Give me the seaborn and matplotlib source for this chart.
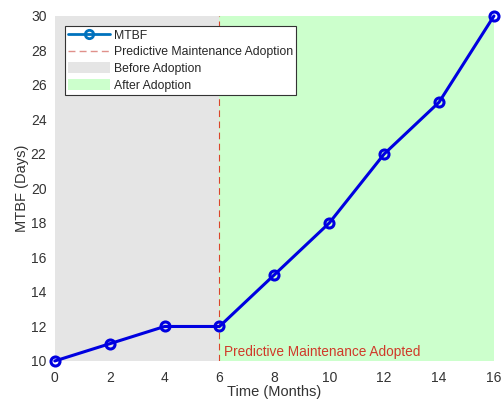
import matplotlib
matplotlib.use("Agg")
import matplotlib.pyplot as plt
from matplotlib.lines import Line2D
from matplotlib.patches import Patch
import seaborn as sns
import pandas as pd

# Mean time between failures over time
months = [0, 2, 4, 6, 8, 10, 12, 14, 16]
mtbf_days = [10, 11, 12, 12, 15, 18, 22, 25, 30]
adoption_month = 6
x_ticks = [0, 2, 4, 6, 8, 10, 12, 14, 16]
y_ticks = [10, 12, 14, 16, 18, 20, 22, 24, 26, 28, 30]

sns.set_theme(style="white")
plt.rcParams["font.family"] = ["Liberation Sans", "DejaVu Sans"]

df = pd.DataFrame({"Time (Months)": months, "MTBF (Days)": mtbf_days})

fig = plt.figure(figsize=(5.03, 4.01), dpi=100)
ax = fig.add_axes([0.109, 0.0998, 0.873, 0.8604])

x_min, x_max = min(months), max(months)
y_min, y_max = min(mtbf_days), max(mtbf_days)

# Shaded periods before/after adoption
ax.axvspan(x_min, adoption_month, color="#e5e5e5", lw=0, zorder=0)
ax.axvspan(adoption_month, x_max, color="#ccffcc", lw=0, zorder=0)
ax.axvline(adoption_month, color="#d9452b", ls=(0, (6, 4)), lw=0.8, zorder=1)

sns.lineplot(data=df, x="Time (Months)", y="MTBF (Days)", ax=ax,
             color="#0000e0", lw=2.2, marker="o", markersize=6.5,
             markerfacecolor="none", markeredgecolor="#0000e0",
             markeredgewidth=2.2, zorder=3, clip_on=False)

ax.text(adoption_month + 0.15, y_min + 0.12, "Predictive Maintenance Adopted",
        color="#d03a2a", fontsize=9.8, ha="left", va="bottom")

ax.set_xlim(x_min, x_max)
ax.set_ylim(y_min, y_max)
ax.set_xticks(x_ticks)
ax.set_yticks(y_ticks)
for s in ax.spines.values():
    s.set_visible(False)
ax.tick_params(axis="x", length=0, labelsize=10, colors="#333333", pad=7)
ax.tick_params(axis="y", length=0, labelsize=10, colors="#333333", pad=6)
ax.set_xlabel("Time (Months)", fontsize=10.5, color="#333333", labelpad=0)
ax.set_ylabel("MTBF (Days)", fontsize=10.5, color="#333333", labelpad=1)

handles = [
    Line2D([], [], color="#0072bd", lw=2, marker="o", markersize=6,
           markerfacecolor="none", markeredgewidth=2),
    Line2D([], [], color="#e0908a", ls=(0, (5, 3)), lw=1.0),
    Patch(facecolor="#e5e5e5", edgecolor="none"),
    Patch(facecolor="#ccffcc", edgecolor="none"),
]
labels = ["MTBF", "Predictive Maintenance Adoption", "Before Adoption", "After Adoption"]
leg = ax.legend(handles, labels, loc="upper left", bbox_to_anchor=(0.023, 0.971),
                fontsize=8.8, frameon=True, fancybox=False, framealpha=1,
                edgecolor="#333333", borderpad=0.25, labelspacing=0.33,
                handlelength=3.4, handleheight=1.0, handletextpad=0.35,
                borderaxespad=0)
leg.get_frame().set_linewidth(0.8)
for t in leg.get_texts():
    t.set_color("#262626")

fig.savefig("out.png", dpi=100)
